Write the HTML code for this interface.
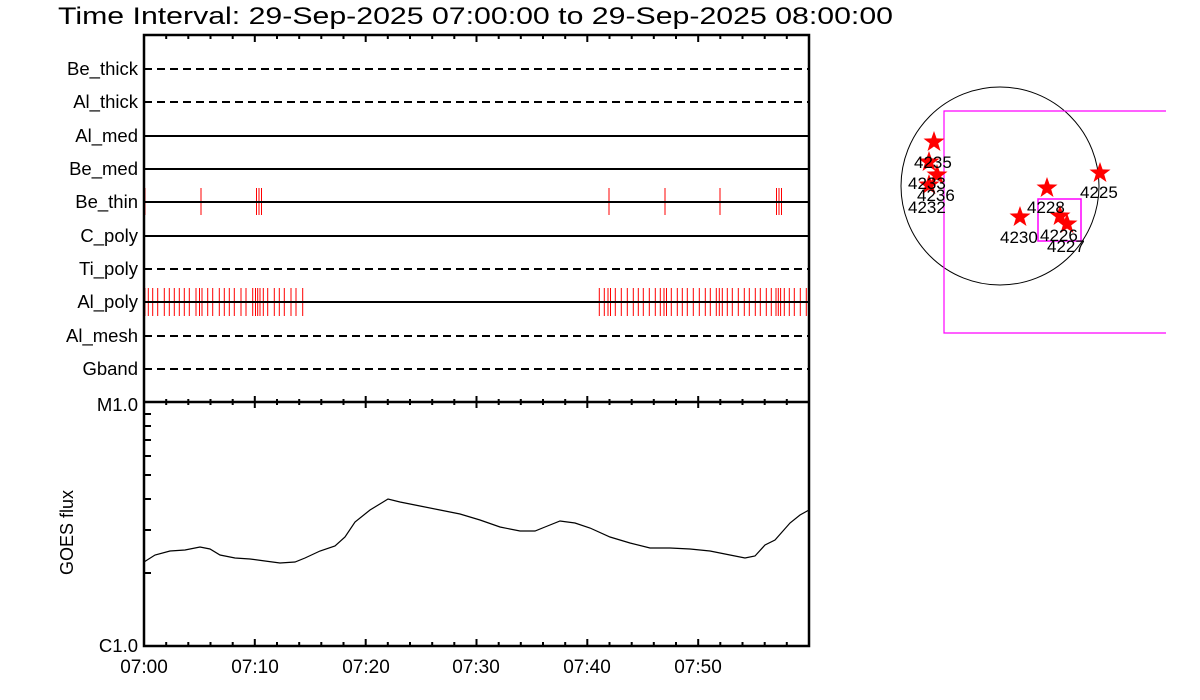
<!DOCTYPE html>
<html><head><style>
body{margin:0;background:#fff;}
svg{display:block;}
text{font-family:"Liberation Sans",sans-serif;fill:#000;}
</style></head><body>
<svg width="1200" height="700" viewBox="0 0 1200 700" xmlns="http://www.w3.org/2000/svg">
<text x="58" y="24" font-size="24" textLength="835" lengthAdjust="spacingAndGlyphs">Time Interval: 29-Sep-2025 07:00:00 to 29-Sep-2025 08:00:00</text>
<g font-size="18.5" text-anchor="end">
<text x="138" y="75">Be_thick</text>
<text x="138" y="108">Al_thick</text>
<text x="138" y="142">Al_med</text>
<text x="138" y="175">Be_med</text>
<text x="138" y="208">Be_thin</text>
<text x="138" y="242">C_poly</text>
<text x="138" y="275">Ti_poly</text>
<text x="138" y="308">Al_poly</text>
<text x="138" y="342">Al_mesh</text>
<text x="138" y="375">Gband</text>
<text x="138" y="411">M1.0</text>
<text x="138" y="652">C1.0</text>
</g>
<text font-size="18" transform="translate(73,575) rotate(-90)">GOES flux</text>
<g font-size="19" text-anchor="middle">
<text x="144" y="673">07:00</text><text x="255" y="673">07:10</text><text x="366" y="673">07:20</text>
<text x="476" y="673">07:30</text><text x="587" y="673">07:40</text><text x="698" y="673">07:50</text>
</g>
<!-- red ticks -->
<g stroke="#f00" stroke-width="1">
<path d="M145 188V215M201 188V215M256.5 188V215M259 188V215M261.5 188V215M609 188V215M665 188V215M720 188V215M776.5 188V215M779 188V215M781.5 188V215"/>
<path d="M145 288V316M148.3 288V316M152.7 288V316M157.7 288V316M164.3 288V316M169.3 288V316M174.3 288V316M179.3 288V316M184.3 288V316M189.3 288V316M196 288V316M199.5 288V316M202 288V316M207.7 288V316M212.7 288V316M219.3 288V316M224.3 288V316M229.3 288V316M234.3 288V316M241 288V316M246 288V316M252.7 288V316M255.5 288V316M257.7 288V316M260 288V316M263.3 288V316M267.7 288V316M274.3 288V316M279.3 288V316M284.3 288V316M291 288V316M296 288V316M302.7 288V316
M599.3 288V316M604.3 288V316M608 288V316M610.5 288V316M615.3 288V316M621.3 288V316M627.3 288V316M633.3 288V316M638.3 288V316M643.3 288V316M649.3 288V316M655.3 288V316M660.3 288V316M664 288V316M666.5 288V316M671.3 288V316M677.3 288V316M682.3 288V316M687.3 288V316M693.3 288V316M699.3 288V316M705.3 288V316M710.3 288V316M716.3 288V316M719.3 288V316M722.3 288V316M727.3 288V316M732.3 288V316M738.3 288V316M744.3 288V316M749.3 288V316M755.3 288V316M760.3 288V316M766.3 288V316M771.3 288V316M776 288V316M778.3 288V316M780.6 288V316M784.3 288V316M789.3 288V316M794.3 288V316M800.3 288V316M806.3 288V316"/>
</g>
<!-- channel lines -->
<g stroke="#000" stroke-width="2">
<path d="M144 69H809M144 102H809M144 269H809M144 336H809M144 369H809" stroke-dasharray="8,5"/>
<path d="M144 136H809M144 169H809M144 202H809M144 236H809M144 302H809"/>
</g>
<!-- frames -->
<g stroke="#000" stroke-width="2.5" fill="none">
<path d="M144 35H809V646H144Z"/>
<path d="M144 402H809"/>
</g>
<!-- time ticks -->
<g stroke="#000" stroke-width="2">
<path d="M166.2 35v4M188.3 35v4M210.5 35v4M232.7 35v4M277 35v4M299.2 35v4M321.3 35v4M343.5 35v4M387.8 35v4M410 35v4M432.2 35v4M454.3 35v4M498.7 35v4M520.8 35v4M543 35v4M565.2 35v4M609.5 35v4M631.7 35v4M653.8 35v4M676 35v4M720.3 35v4M742.5 35v4M764.7 35v4M786.8 35v4"/>
<path d="M254.8 35v7M365.7 35v7M476.5 35v7M587.3 35v7M698.2 35v7"/>
<path d="M166.2 399v6M188.3 399v6M210.5 399v6M232.7 399v6M277 399v6M299.2 399v6M321.3 399v6M343.5 399v6M387.8 399v6M410 399v6M432.2 399v6M454.3 399v6M498.7 399v6M520.8 399v6M543 399v6M565.2 399v6M609.5 399v6M631.7 399v6M653.8 399v6M676 399v6M720.3 399v6M742.5 399v6M764.7 399v6M786.8 399v6"/>
<path d="M254.8 396v12M365.7 396v12M476.5 396v12M587.3 396v12M698.2 396v12"/>
<path d="M166.2 646v-4M188.3 646v-4M210.5 646v-4M232.7 646v-4M277 646v-4M299.2 646v-4M321.3 646v-4M343.5 646v-4M387.8 646v-4M410 646v-4M432.2 646v-4M454.3 646v-4M498.7 646v-4M520.8 646v-4M543 646v-4M565.2 646v-4M609.5 646v-4M631.7 646v-4M653.8 646v-4M676 646v-4M720.3 646v-4M742.5 646v-4M764.7 646v-4M786.8 646v-4"/>
<path d="M254.8 646v-7M365.7 646v-7M476.5 646v-7M587.3 646v-7M698.2 646v-7"/>
<path d="M144 573h7M144 530h7M144 499h7M144 475h7M144 456h7M144 440h7M144 426h7M144 414h7"/>
</g>
<!-- GOES curve -->
<polyline fill="none" stroke="#000" stroke-width="1.2" points="144,562 155,555 170,551 185,550 200,547 210,549 220,555 235,558 250,559 265,561 280,563 295,562 305,558 320,551 335,546 345,537 355,522 370,510 388,499 400,502 420,506 440,510 460,514 480,520 500,527 520,531 535,531 545,527 560,521 575,523 590,528 610,537 630,543 650,548 670,548 690,549 710,551 730,555 745,558 755,556 765,545 775,540 790,523 800,515 809,510"/>
<!-- disk -->
<circle cx="1000" cy="186" r="99" fill="none" stroke="#000" stroke-width="1"/>
<path d="M1166 111H944V333H1166" fill="none" stroke="#f0f" stroke-width="1.2"/>
<rect x="1038" y="199" width="43" height="42" fill="none" stroke="#f0f" stroke-width="1.5"/>
<defs><polygon id="st" points="0,-11 2.6,-3.6 10.5,-3.4 4.2,1.4 6.5,9 0,4.5 -6.5,9 -4.2,1.4 -10.5,-3.4 -2.6,-3.6" fill="#f00"/></defs>
<use href="#st" x="934" y="142"/><use href="#st" x="929" y="162"/><use href="#st" x="937" y="175"/><use href="#st" x="929" y="185"/>
<use href="#st" x="1100" y="173"/><use href="#st" x="1047" y="188"/><use href="#st" x="1020" y="217"/><use href="#st" x="1060" y="216"/><use href="#st" x="1067" y="224"/>
<g font-size="17">
<text x="914" y="168">4235</text><text x="908" y="189">4233</text><text x="917" y="201">4236</text><text x="908" y="213">4232</text>
<text x="1080" y="198">4225</text><text x="1027" y="213">4228</text><text x="1000" y="243">4230</text><text x="1040" y="241">4226</text><text x="1047" y="252">4227</text>
</g>
</svg>
</body></html>
